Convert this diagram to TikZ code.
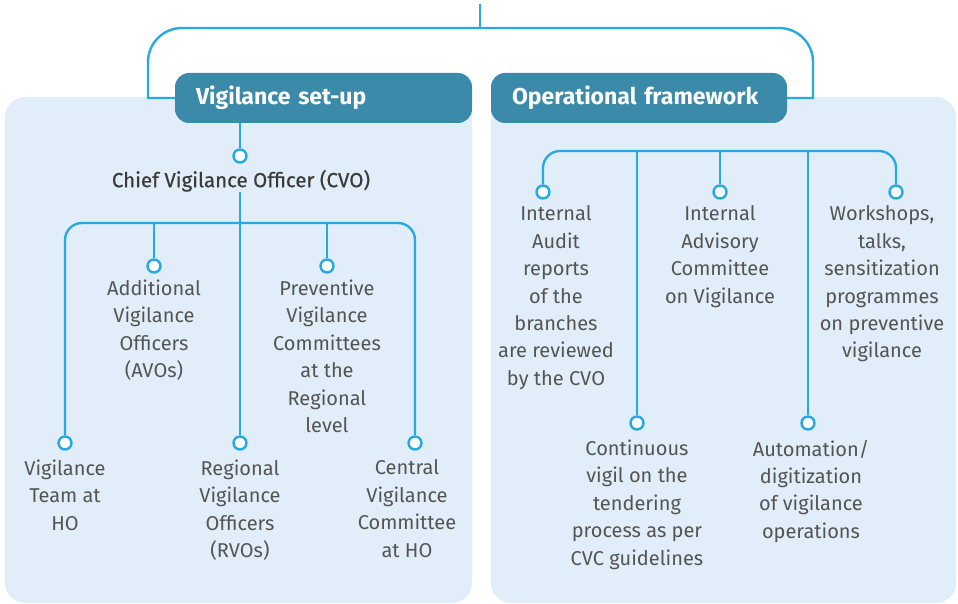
\documentclass[tikz,border=0pt]{standalone}
\usepackage{fontspec}
\setmainfont{Fira Sans}
\newfontfamily\chieffont[FakeBold=0.5]{Fira Sans}
\usetikzlibrary{positioning}
\definecolor{panelblue}{HTML}{E1EEF9}
\definecolor{headblue}{HTML}{3B8AA9}
\definecolor{linkblue}{HTML}{27AAE1}
\definecolor{textgrey}{HTML}{545454}
\definecolor{chiefgrey}{HTML}{3A3A3A}
\tikzstyle{panel} = [fill=panelblue, rounded corners=20pt]
\tikzstyle{headbox} = [fill=headblue, text=white, font=\bfseries\fontsize{23}{27}\selectfont,
    rounded corners=14pt, minimum height=50pt, inner xsep=21pt, inner ysep=0pt, align=left]
\tikzstyle{link} = [draw=linkblue, line width=2.4pt]
\tikzstyle{dot} = [circle, draw=linkblue, fill=white, line width=2.4pt, inner sep=0pt, minimum size=13pt]
\tikzstyle{item} = [text=textgrey, font=\fontsize{20}{27.4}\selectfont, align=center, inner sep=0pt]
\tikzstyle{chief} = [text=chiefgrey, font=\chieffont\fontsize{20.5}{24}\selectfont, inner sep=0pt]

\begin{document}
\begin{tikzpicture}[x=1pt, y=-1pt]
    \useasboundingbox (0,0) rectangle (958,604);
    \fill[panel] (5,97) rectangle (472,603);
    \fill[panel] (491,97) rectangle (956,603);
    \node[headbox, text width=255pt] (setup) at (323.5,98) {Vigilance set-up};
    \node[headbox, text width=254pt] (frame) at (639,98) {Operational framework};

    \coordinate (top) at (480,4);
    \coordinate (hub) at (480,28);
    \coordinate (lknee) at (148,98);
    \coordinate (rknee) at (813,98);
    \draw[link] (top) -- (hub);
    \draw[link] (setup.west) -- (lknee) [rounded corners=34pt] -- (lknee |- hub)
        -- (rknee |- hub) [sharp corners] -- (rknee) -- (frame.east);

    \node[dot] (cvodot) at (240,156) {};
    \node[chief, below=6pt of cvodot, xshift=1pt] (cvo) {Chief Vigilance Officer (CVO)};
    \draw[link] (cvodot |- setup.south) -- (cvodot);

    \coordinate (lbar) at (240,223);
    \node[dot] (vtdot) at (65,443) {};
    \node[dot] (avodot) at (154,266) {};
    \node[dot] (rvodot) at (240,443) {};
    \node[dot] (pvcdot) at (327,266) {};
    \node[dot] (cvcdot) at (415,443) {};
    \draw[link] (cvodot |- cvo.south) -- (rvodot.north);
    \draw[link, rounded corners=17pt] (vtdot.north) -- (vtdot |- lbar) -- (cvcdot |- lbar) -- (cvcdot.north);
    \draw[link] (avodot |- lbar) -- (avodot.north);
    \draw[link] (pvcdot |- lbar) -- (pvcdot.north);

    \node[item, below=9pt of vtdot] (vt) {Vigilance\\Team at\\HO};
    \node[item, below=6pt of avodot] (avo) {Additional\\Vigilance\\Officers\\(AVOs)};
    \node[item, below=9pt of rvodot] (rvo) {Regional\\Vigilance\\Officers\\(RVOs)};
    \node[item, below=6pt of pvcdot] (pvc) {Preventive\\Vigilance\\Committees\\at the\\Regional\\level};
    \node[item, below=9pt of cvcdot, xshift=-8pt] (cvc) {Central\\Vigilance\\Committee\\at HO};

    \coordinate (rbar) at (720,151);
    \node[dot] (auditdot) at (543,192) {};
    \node[dot] (advdot) at (720,192) {};
    \node[dot] (shopdot) at (896,192) {};
    \node[dot] (tenddot) at (637,423) {};
    \node[dot] (autodot) at (808,423) {};
    \draw[link, rounded corners=17pt] (auditdot.north) -- (auditdot |- rbar) -- (shopdot |- rbar) -- (shopdot.north);
    \draw[link] (advdot |- rbar) -- (advdot.north);
    \draw[link] (tenddot |- rbar) -- (tenddot.north);
    \draw[link] (autodot |- rbar) -- (autodot.north);

    \node[item, below=6pt of auditdot, xshift=13pt] (audit) {Internal\\Audit\\reports\\of the\\branches\\are reviewed\\by the CVO};
    \node[item, below=6pt of advdot] (adv) {Internal\\Advisory\\Committee\\on Vigilance};
    \node[item, below=6pt of shopdot, xshift=-14pt] (shop) {Workshops,\\talks,\\sensitization\\programmes\\on preventive\\vigilance};
    \node[item, below=9pt of tenddot] (tend) {Continuous\\vigil on the\\tendering\\process as per\\CVC guidelines};
    \node[item, below=9pt of autodot, xshift=3pt] (auto) {Automation/\\digitization\\of vigilance\\operations};
\end{tikzpicture}
\end{document}
